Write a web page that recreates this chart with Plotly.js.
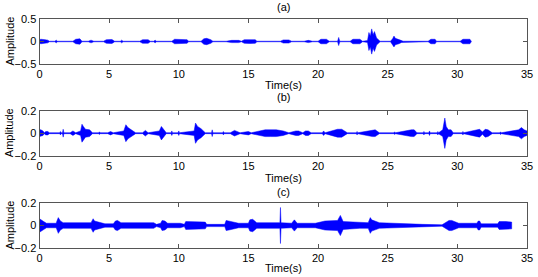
<!DOCTYPE html>
<html>
<head>
<meta charset="utf-8">
<script src="https://cdn.plot.ly/plotly-3.0.1.min.js"></script>
<style>html,body{margin:0;padding:0;background:#fff;}#chart{width:538px;height:277px;}</style>
</head>
<body>
<div id="chart"></div>
<script>
// Panel titles and axis labels
const panelTitles = ["(a)", "(b)", "(c)"];
const xTickVals = [0, 5, 10, 15, 20, 25, 30, 35];
const yTicksA = [-0.5, 0, 0.5];
const yTicksBC = [-0.2, 0, 0.2];

// Signal (a): envelope knots (time s, amplitude)
const timeA = [0.0, 0.1, 0.4, 0.6, 0.7, 1.1, 1.2, 1.3, 2.4, 2.6, 2.9, 3.05, 3.5, 3.7, 3.9, 4.6, 4.8, 5.2, 5.4, 5.8, 5.9, 6.0, 7.2, 7.4, 7.8, 7.95, 8.2, 8.3, 8.4, 9.5, 9.7, 10.1, 10.6, 10.7, 11.6, 11.8, 12.0, 12.3, 12.45, 13.4, 13.8, 14.3, 14.5, 14.7, 15.1, 15.5, 15.6, 17.3, 17.5, 17.9, 18.1, 19.0, 19.3, 19.6, 20.0, 20.2, 20.6, 20.8, 21.4, 21.48, 21.56, 22.3, 22.5, 23.0, 23.2, 23.55, 23.65, 23.75, 23.85, 23.95, 24.05, 24.2, 24.45, 25.2, 25.35, 25.45, 25.55, 25.8, 26.0, 26.1, 27.9, 28.1, 28.4, 28.5, 30.2, 30.4, 30.9, 31.0];
const ampA  = [0.04, 0.05, 0.04, 0.03, 0.006, 0.006, 0.03, 0.006, 0.006, 0.05, 0.06, 0.006, 0.006, 0.03, 0.006, 0.006, 0.04, 0.045, 0.006, 0.006, 0.03, 0.006, 0.006, 0.04, 0.04, 0.006, 0.006, 0.03, 0.006, 0.006, 0.05, 0.05, 0.04, 0.006, 0.006, 0.06, 0.07, 0.04, 0.006, 0.006, 0.025, 0.025, 0.006, 0.04, 0.045, 0.04, 0.006, 0.006, 0.035, 0.035, 0.006, 0.006, 0.025, 0.006, 0.006, 0.05, 0.05, 0.006, 0.006, 0.09, 0.006, 0.006, 0.05, 0.05, 0.006, 0.02, 0.2, 0.12, 0.28, 0.15, 0.22, 0.08, 0.006, 0.006, 0.06, 0.12, 0.07, 0.05, 0.02, 0.006, 0.006, 0.05, 0.05, 0.006, 0.006, 0.05, 0.05, 0.006];

// Signal (b)
const timeB = [0.0, 0.1, 0.25, 0.35, 0.45, 0.6, 0.7, 1.45, 1.5, 1.55, 1.65, 1.7, 1.75, 2.2, 2.4, 2.6, 2.95, 3.05, 3.15, 3.3, 3.6, 3.8, 4.25, 4.3, 4.35, 4.9, 5.1, 5.3, 6.05, 6.2, 6.35, 6.6, 6.9, 7.4, 7.6, 7.8, 8.6, 8.75, 8.9, 9.1, 9.45, 9.5, 9.55, 9.95, 10.0, 10.05, 11.1, 11.2, 11.35, 11.6, 11.9, 12.35, 12.4, 12.45, 13.15, 13.2, 13.25, 13.7, 14.0, 14.4, 15.0, 15.2, 16.2, 16.6, 17.0, 17.5, 17.9, 18.4, 18.6, 18.9, 19.1, 19.3, 19.5, 20.3, 20.4, 20.5, 21.4, 21.7, 22.1, 22.75, 22.8, 22.85, 23.9, 24.1, 24.4, 25.45, 25.5, 25.55, 26.7, 26.9, 27.1, 27.55, 27.6, 27.65, 27.95, 28.0, 28.05, 28.55, 28.6, 28.65, 28.95, 29.1, 29.2, 29.35, 29.55, 29.7, 30.35, 30.4, 30.45, 31.6, 31.8, 32.0, 32.2, 32.5, 33.05, 33.1, 33.15, 34.4, 34.6, 34.8, 35.0];
const ampB  = [0.03, 0.03, 0.02, 0.004, 0.015, 0.015, 0.004, 0.004, 0.015, 0.004, 0.004, 0.035, 0.004, 0.004, 0.02, 0.004, 0.02, 0.08, 0.06, 0.035, 0.03, 0.004, 0.004, 0.012, 0.004, 0.004, 0.015, 0.004, 0.02, 0.075, 0.05, 0.03, 0.004, 0.004, 0.025, 0.004, 0.02, 0.06, 0.04, 0.004, 0.004, 0.02, 0.004, 0.004, 0.02, 0.004, 0.02, 0.09, 0.06, 0.04, 0.004, 0.004, 0.03, 0.004, 0.004, 0.015, 0.004, 0.004, 0.025, 0.004, 0.015, 0.004, 0.03, 0.03, 0.03, 0.02, 0.004, 0.02, 0.02, 0.004, 0.02, 0.02, 0.004, 0.004, 0.02, 0.004, 0.035, 0.035, 0.004, 0.004, 0.015, 0.004, 0.03, 0.03, 0.004, 0.004, 0.012, 0.004, 0.03, 0.03, 0.004, 0.004, 0.015, 0.004, 0.004, 0.02, 0.004, 0.004, 0.015, 0.004, 0.03, 0.135, 0.06, 0.03, 0.03, 0.004, 0.004, 0.015, 0.004, 0.035, 0.01, 0.035, 0.03, 0.004, 0.004, 0.012, 0.004, 0.03, 0.05, 0.03, 0.02];

// Signal (c)
const timeC = [0.0, 0.1, 0.3, 0.5, 1.2, 1.25, 1.35, 1.5, 1.7, 3.7, 3.85, 3.95, 4.2, 4.7, 5.3, 5.45, 5.6, 5.85, 8.2, 8.4, 8.7, 8.8, 9.0, 9.2, 10.1, 10.4, 10.5, 11.2, 11.9, 12.0, 13.3, 13.4, 13.6, 14.3, 15.0, 15.1, 15.3, 15.6, 17.26, 17.3, 17.34, 18.1, 18.3, 18.5, 19.8, 20.5, 21.4, 21.6, 21.8, 23.0, 23.6, 23.75, 23.85, 24.4, 25.3, 25.4, 26.5, 27.5, 28.9, 29.4, 29.6, 30.1, 31.4, 31.5, 31.6, 31.7, 32.9, 33.0, 33.5, 33.9];
const ampC  = [0.06, 0.05, 0.035, 0.02, 0.02, 0.04, 0.07, 0.04, 0.025, 0.025, 0.06, 0.04, 0.03, 0.015, 0.015, 0.04, 0.045, 0.025, 0.025, 0.01, 0.02, 0.045, 0.04, 0.02, 0.02, 0.01, 0.035, 0.035, 0.03, 0.01, 0.01, 0.045, 0.04, 0.02, 0.02, 0.05, 0.055, 0.025, 0.025, 0.16, 0.025, 0.02, 0.05, 0.02, 0.02, 0.04, 0.045, 0.09, 0.035, 0.025, 0.025, 0.07, 0.05, 0.025, 0.02, 0.018, 0.018, 0.01, 0.006, 0.045, 0.045, 0.02, 0.02, 0.04, 0.04, 0.015, 0.015, 0.035, 0.035, 0.03];

function envelope(t, a, xa, ya) {
  const xs = t.concat(t.slice().reverse());
  const ys = a.concat(a.slice().reverse().map(v => -v));
  xs.push(t[0]); ys.push(a[0]);
  return {x: xs, y: ys, xaxis: xa, yaxis: ya, type: 'scatter', mode: 'lines',
    fill: 'toself', fillcolor: '#0000FF', line: {color: '#0000FF', width: 0.5},
    hoverinfo: 'skip', showlegend: false};
}

const data = [
  envelope(timeA, ampA, 'x', 'y'),
  envelope(timeB, ampB, 'x2', 'y2'),
  envelope(timeC, ampC, 'x3', 'y3')
];

const W = 538, H = 277;
const xDom = [39.5 / W, 527 / W];
const panels = [[19, 64], [110.7, 155.7], [203, 248]];
const font = {family: 'Arial, "Liberation Sans", sans-serif', size: 11, color: '#000'};

function xaxisCfg(anchor) {
  return {domain: xDom, anchor: anchor, range: [0, 35], tickvals: xTickVals,
    ticks: 'inside', ticklen: 4, tickcolor: '#555', showline: true, linecolor: '#555',
    linewidth: 1, mirror: 'ticks', showgrid: false, zeroline: false, tickfont: font, fixedrange: true};
}
function yaxisCfg(anchor, p, rng, tv) {
  return {domain: [1 - p[1] / H, 1 - p[0] / H], anchor: anchor, range: rng, tickvals: tv,
    ticks: 'inside', ticklen: 4, tickcolor: '#555', showline: true, linecolor: '#555',
    linewidth: 1, mirror: 'ticks', showgrid: false, zeroline: false, tickfont: font, fixedrange: true};
}

const annotations = [];
const titleY = [7, 97, 192];
const timeY = [85, 178, 268];
panels.forEach((p, i) => {
  annotations.push({text: panelTitles[i], xref: 'paper', yref: 'paper', x: 283 / W, y: 1 - titleY[i] / H,
    showarrow: false, font: font, xanchor: 'center', yanchor: 'middle'});
  annotations.push({text: 'Time(s)', xref: 'paper', yref: 'paper', x: 283 / W, y: 1 - timeY[i] / H,
    showarrow: false, font: font, xanchor: 'center', yanchor: 'middle'});
  annotations.push({text: 'Amplitude', xref: 'paper', yref: 'paper', x: 9 / W, y: 1 - (p[0] + p[1]) / 2 / H,
    showarrow: false, font: font, xanchor: 'center', yanchor: 'middle', textangle: -90});
});

const layout = {
  width: W, height: H, margin: {l: 0, r: 0, t: 0, b: 0},
  paper_bgcolor: '#fff', plot_bgcolor: '#fff', showlegend: false, font: font,
  xaxis: xaxisCfg('y'), yaxis: yaxisCfg('x', panels[0], [-0.5, 0.5], yTicksA),
  xaxis2: xaxisCfg('y2'), yaxis2: yaxisCfg('x2', panels[1], [-0.2, 0.2], yTicksBC),
  xaxis3: xaxisCfg('y3'), yaxis3: yaxisCfg('x3', panels[2], [-0.2, 0.2], yTicksBC),
  annotations: annotations
};

Plotly.newPlot('chart', data, layout, {displayModeBar: false, staticPlot: true});
</script>
</body>
</html>
